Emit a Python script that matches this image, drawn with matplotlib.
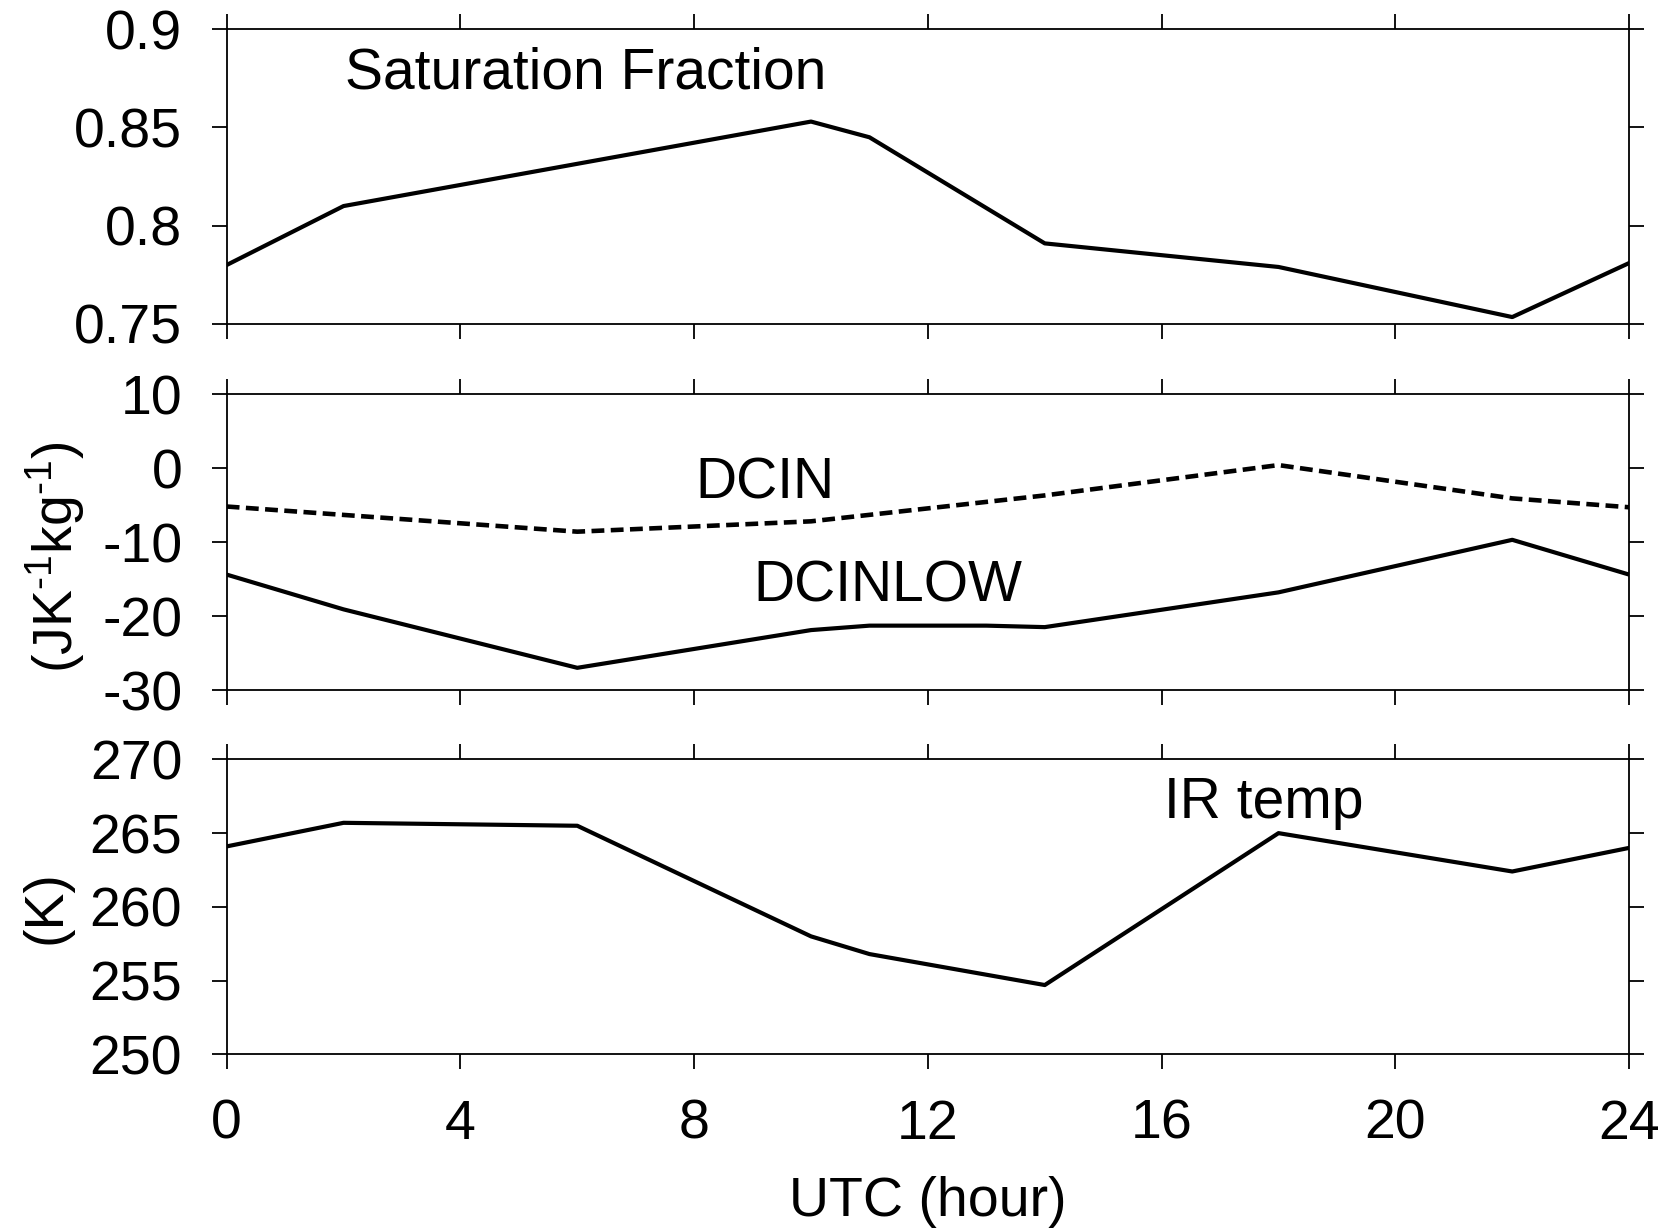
import numpy as np
import matplotlib
matplotlib.use('Agg')
import matplotlib.pyplot as plt

plt.rcParams['font.family'] = ['Liberation Sans', 'DejaVu Sans']
plt.rcParams['mathtext.fontset'] = 'custom'
plt.rcParams['mathtext.rm'] = 'Liberation Sans'
plt.rcParams['mathtext.it'] = 'Liberation Sans'
plt.rcParams['mathtext.default'] = 'regular'

# Saturation fraction
sf_hour = [0, 2, 10, 11, 14, 18, 22, 24]
sf_val = [0.780, 0.810, 0.853, 0.845, 0.791, 0.779, 0.7535, 0.781]

# DCIN (dashed) and DCINLOW (solid), J K-1 kg-1
dcin_hour = [0, 6, 10, 14, 18, 22, 24]
dcin_val = [-5.2, -8.6, -7.2, -3.7, 0.4, -4.1, -5.3]
dcinlow_hour = [0, 2, 6, 10, 11, 13, 14, 18, 22, 24]
dcinlow_val = [-14.4, -19.1, -27.0, -21.9, -21.3, -21.3, -21.5, -16.8, -9.7, -14.4]

# IR temperature (K)
ir_hour = [0, 2, 6, 10, 11, 14, 18, 22, 24]
ir_val = [264.1, 265.7, 265.5, 258.0, 256.8, 254.7, 265.0, 262.4, 264.0]

xticks = [0, 4, 8, 12, 16, 20, 24]

FS = 40
LW = 3.0


def style_axis(ax, ylim, yticks, yticklabels, show_xlabels=False):
    ax.set_xlim(0, 24)
    ax.set_ylim(*ylim)
    ax.set_xticks(xticks)
    ax.set_yticks(yticks)
    ax.set_yticklabels(yticklabels)
    ax.tick_params(axis='both', direction='out', length=11, width=1.3,
                   top=True, right=True, labelsize=FS)
    ax.tick_params(axis='y', pad=21)
    ax.tick_params(axis='x', pad=21, labelbottom=show_xlabels)
    for sp in ax.spines.values():
        sp.set_linewidth(1.3)


fig = plt.figure(figsize=(16.68, 12.28), dpi=100)
left, width = 0.1359, 0.8408
ax1 = fig.add_axes([left, 0.7362, width, 0.2400])
ax2 = fig.add_axes([left, 0.4381, width, 0.2410])
ax3 = fig.add_axes([left, 0.1414, width, 0.2402])

# top panel
ax1.plot(sf_hour, sf_val, color='black', lw=LW)
style_axis(ax1, (0.75, 0.9), [0.75, 0.8, 0.85, 0.9],
           ['0.75', '0.8', '0.85', '0.9'])
ax1.text(6.15, 0.870, 'Saturation Fraction', fontsize=41, ha='center', va='baseline')

# middle panel
ax2.plot(dcin_hour, dcin_val, color='black', lw=3.3, linestyle=(0, (2.8, 1.4)))
ax2.plot(dcinlow_hour, dcinlow_val, color='black', lw=LW)
style_axis(ax2, (-30, 10), [-30, -20, -10, 0, 10],
           ['-30', '-20', '-10', '0', '10'])
ax2.text(9.21, -4.1, 'DCIN', fontsize=41, ha='center', va='baseline')
ax2.text(11.32, -18.06, 'DCINLOW', fontsize=41, ha='center', va='baseline')
ax2.text(-0.122, 0.45, r'(JK$^{\text{-}1}$kg$^{\text{-}1}$)', fontsize=FS, rotation=90,
         ha='center', va='center', transform=ax2.transAxes)

# bottom panel
ax3.plot(ir_hour, ir_val, color='black', lw=LW)
style_axis(ax3, (250, 270), [250, 255, 260, 265, 270],
           ['250', '255', '260', '265', '270'], show_xlabels=True)
ax3.text(17.75, 266.0, 'IR temp', fontsize=41, ha='center', va='baseline')
ax3.text(-0.1288, 0.5, '(K)', fontsize=FS, rotation=90,
         ha='center', va='center', transform=ax3.transAxes)
ax3.set_xlabel('UTC (hour)', fontsize=FS, labelpad=18)

fig.savefig('out.png', dpi=100)
